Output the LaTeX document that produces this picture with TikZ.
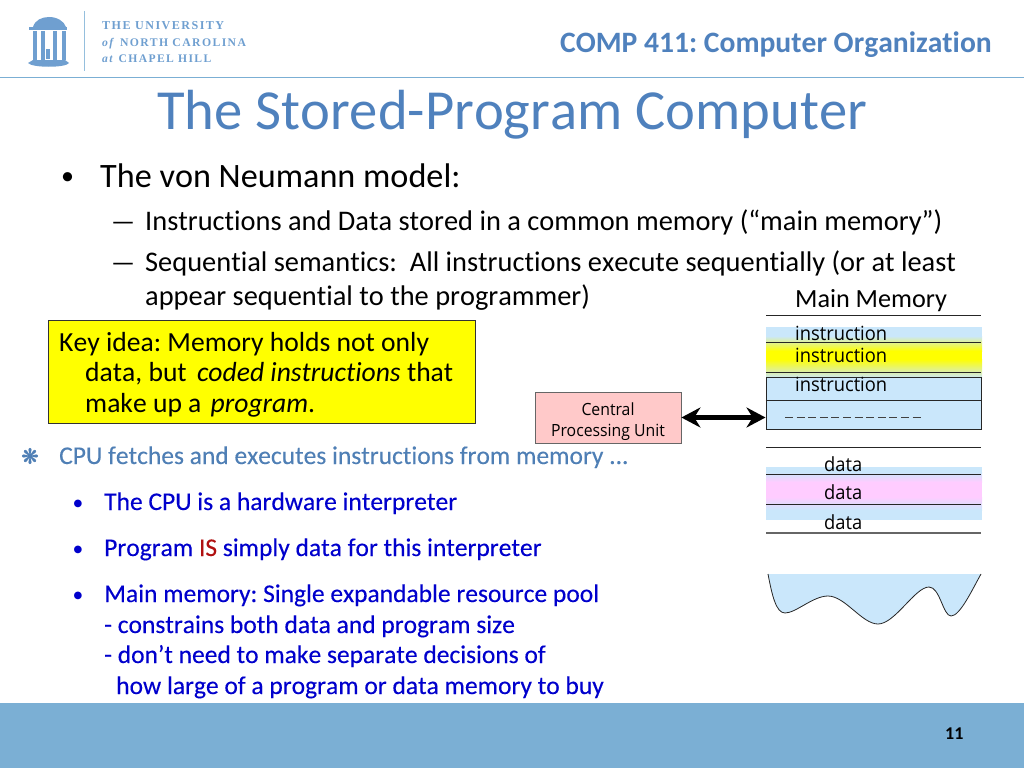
\documentclass[tikz,border=0pt]{standalone}
\usepackage{fontspec}
\setmainfont[Ligatures=NoCommon,Kerning=Off]{Carlito}
\newfontfamily\heavyfont[Ligatures=NoCommon,Kerning=Off,FakeBold=0.25]{Carlito}
\newfontfamily\diagfont[FakeStretch=0.94]{Open Sans}
\newfontfamily\symfont{DejaVu Sans}
\newfontfamily\starfont[FakeBold=1.5]{DejaVu Sans}
\newfontfamily\logofont[LetterSpace=12]{Liberation Serif}
\usetikzlibrary{arrows.meta}
\AtBeginDocument{\frenchspacing}
\definecolor{uncblue}{HTML}{7BAFD4}
\definecolor{logoblue}{HTML}{6F9FD0}
\definecolor{titleblue}{HTML}{4F81BD}
\definecolor{fetchblue}{HTML}{4F7FB5}
\definecolor{slideblue}{HTML}{0000CC}
\definecolor{isred}{HTML}{B01010}
\definecolor{membg}{HTML}{CAE7FB}
\definecolor{cpupink}{HTML}{FFC9C9}
\definecolor{datapink}{HTML}{FFCCFF}
\definecolor{keyyellow}{RGB}{255,255,0}
\begin{document}
\begin{tikzpicture}[x=1pt, y=-1pt,
    txt/.style= {anchor=base west, inner sep=0pt, font=\fontsize{#1}{#1}\selectfont},
    sub/.style= {txt=28.4},
    dashmark/.style= {anchor=base west, inner sep=0pt, font=\fontsize{26.5}{26.5}\selectfont},
    blue/.style= {anchor=base west, inner sep=0pt, text=slideblue, font=\heavyfont\fontsize{25.5}{25.5}\selectfont},
    dot/.style= {anchor=center, inner sep=0pt, text=slideblue, font=\symfont\fontsize{10}{10}\selectfont},
    cell/.style= {anchor=base west, inner sep=0pt, font=\diagfont\fontsize{19.5}{19.5}\selectfont},
    memline/.style= {line width=1pt, black!85},
    logotxt/.style= {anchor=base west, inner sep=0pt, text=logoblue, font=\logofont\bfseries\fontsize{#1}{#1}\selectfont},
]
\useasboundingbox (0,0) rectangle (1024,768);

% header and footer
\fill[uncblue] (0,703) rectangle (1024,768);
\draw[uncblue, line width=1.2pt] (0,77.5) -- (1024,77.5);
\draw[uncblue!80, line width=0.8pt] (84,11) -- (84,71);
\node[txt=18, font=\bfseries\fontsize{18}{18}\selectfont] (pagenum) at (945,739) {11};
\node[txt=27, text=titleblue, font=\bfseries\fontsize{29.6}{29.6}\selectfont, anchor=base east] (course) at (992,52.5) {COMP 411: Computer Organization};
\node[txt=56.6, text=titleblue, anchor=base] (title) at (512,129) {The Stored-Program Computer};

% logo
\fill[logoblue] (33,27) .. controls (35,20) and (42,17) .. (49,17) .. controls (57,17) and (64,21) .. (66,27) -- cycle;
\fill[logoblue] (29,27.5) rectangle (67,30);
\foreach \x in {33,41,53,62} {
    \fill[logoblue] (\x,31) rectangle (\x+4,60);
}
\fill[logoblue] (46,49) rectangle (50,59);
\fill[logoblue] (33,60) -- (65,60) -- (69,63) .. controls (66,68) and (32,68) .. (28,63) -- cycle;
\node[logotxt=12.1] (uni1) at (102,30) {THE UNIVERSITY};
\node[logotxt=11.7] (uni2) at (102,47) {\textit{of} NORTH CAROLINA};
\node[logotxt=11.6] (uni3) at (102,63) {\textit{at} CHAPEL HILL};

% bullets at the top
\node[txt=26] (b1) at (61,184) {•};
\node[txt=34.2] (model) at (100,187) {The von Neumann model:};
\node[dashmark] (d1) at (111,230) {—};
\node[sub] (l1) at (145,230) {Instructions and Data stored in a common memory (“main memory”)};
\node[dashmark] (d2) at (111,271) {—};
\node[sub] (l2) at (145,271) {Sequential semantics:~ All instructions execute sequentially (or at least};
\node[sub] (l3) at (145,305) {appear sequential to the programmer)};

% key idea
\draw[fill=keyyellow, draw=black!80, line width=1pt] (48,320) rectangle (475,423);
\node[anchor=north west, inner sep=0pt, align=left, font=\fontsize{27.6}{30.5}\selectfont] (key) at (59,332)
    {Key idea: Memory holds not only\\
    \hspace*{26pt}data, but\hspace{4pt} \textit{coded instructions} that\\
    \hspace*{26pt}make up a\hspace{3pt} \textit{program}.};

% cpu
\node[draw=black!60, fill=cpupink, line width=0.8pt, minimum width=146pt, minimum height=51pt, inner sep=0pt, align=center,
    font=\diagfont\fontsize{16.8}{21}\selectfont] (cpu) at (608,417.5) {\rule{0pt}{22pt}Central\\Processing Unit};

% main memory
\node[txt=26.2, anchor=base] (memtitle) at (871,307) {Main Memory};
\draw[memline] (766,315) -- (981,315);
\fill[membg] (766,327) rectangle (982,336);
\shade[top color=membg, bottom color=keyyellow] (766,336) rectangle (982,351);
\fill[keyyellow] (766,351) rectangle (982,359);
\shade[top color=keyyellow, bottom color=membg] (766,359) rectangle (982,378);
\draw[memline] (766,342) -- (981,342);
\draw[memline] (766,372) -- (981,372);
\node[draw=black!85, fill=membg, line width=1pt, minimum width=215pt, minimum height=52pt, inner sep=0pt] (memory) at (873.5,403) {};
\draw[memline] (memory.west |- 0,400.5) -- (memory.east |- 0,400.5);
\draw[black!75, line width=0.8pt, dash pattern=on 8pt off 3.6pt] (785,417) -- (922,417);
\node[cell] (inst1) at (795,340) {instruction};
\node[cell] (inst2) at (795,362) {instruction};
\node[cell] (inst3) at (795,391) {instruction};

\draw[{Stealth[length=19pt,width=20pt]}-{Stealth[length=19pt,width=20pt]}, line width=4.5pt] (cpu.east) -- (cpu.east -| memory.west);

% data
\draw[memline] (766,447) -- (981,447);
\fill[membg] (766,467) rectangle (982,472);
\shade[top color=membg, bottom color=datapink] (766,472) rectangle (982,482);
\fill[datapink] (766,482) rectangle (982,497);
\shade[top color=datapink, bottom color=membg] (766,497) rectangle (982,510);
\fill[membg] (766,510) rectangle (982,520);
\draw[memline] (766,474) -- (981,474);
\draw[memline] (766,504) -- (981,504);
\draw[black!60, line width=1.2pt] (766,533) -- (981,533);
\node[cell] (data1) at (824,471) {data};
\node[cell] (data2) at (824,499) {data};
\node[cell] (data3) at (824,529) {data};

% free pool
\fill[membg] (768,574) .. controls (772,595) and (776,613) .. (785,613) .. controls (796,613) and (813,596) .. (828,596)
    .. controls (845,596) and (862,624) .. (878,624) .. controls (895,624) and (915,587) .. (929,587)
    .. controls (940,587) and (943,616) .. (951,616) .. controls (960,616) and (972,590) .. (981,574) -- cycle;
\draw[black!85, line width=0.8pt] (768,574) .. controls (772,595) and (776,613) .. (785,613) .. controls (796,613) and (813,596) .. (828,596)
    .. controls (845,596) and (862,624) .. (878,624) .. controls (895,624) and (915,587) .. (929,587)
    .. controls (940,587) and (943,616) .. (951,616) .. controls (960,616) and (972,590) .. (981,574);

% lower text
\node[dot, text=fetchblue, font=\starfont\fontsize{21}{21}\selectfont] (star) at (30,456) {❋};
\node[blue, text=fetchblue] (fetch) at (59,464) {CPU fetches and executes instructions from memory ...};
\node[dot] (b2) at (78,504) {●};
\node[blue] (t1) at (104,510) {The CPU is a hardware interpreter};
\node[dot] (b3) at (78,550) {●};
\node[blue] (t2) at (104,556) {Program \textcolor{isred}{IS} simply data for this interpreter};
\node[dot] (b4) at (78,596) {●};
\node[blue] (t3) at (104,602) {Main memory: Single expandable resource pool};
\node[blue] (t4) at (104,633) {- constrains both data and program size};
\node[blue] (t5) at (104,663) {- don’t need to make separate decisions of};
\node[blue] (t6) at (116,694) {how large of a program or data memory to buy};
\end{tikzpicture}
\end{document}
